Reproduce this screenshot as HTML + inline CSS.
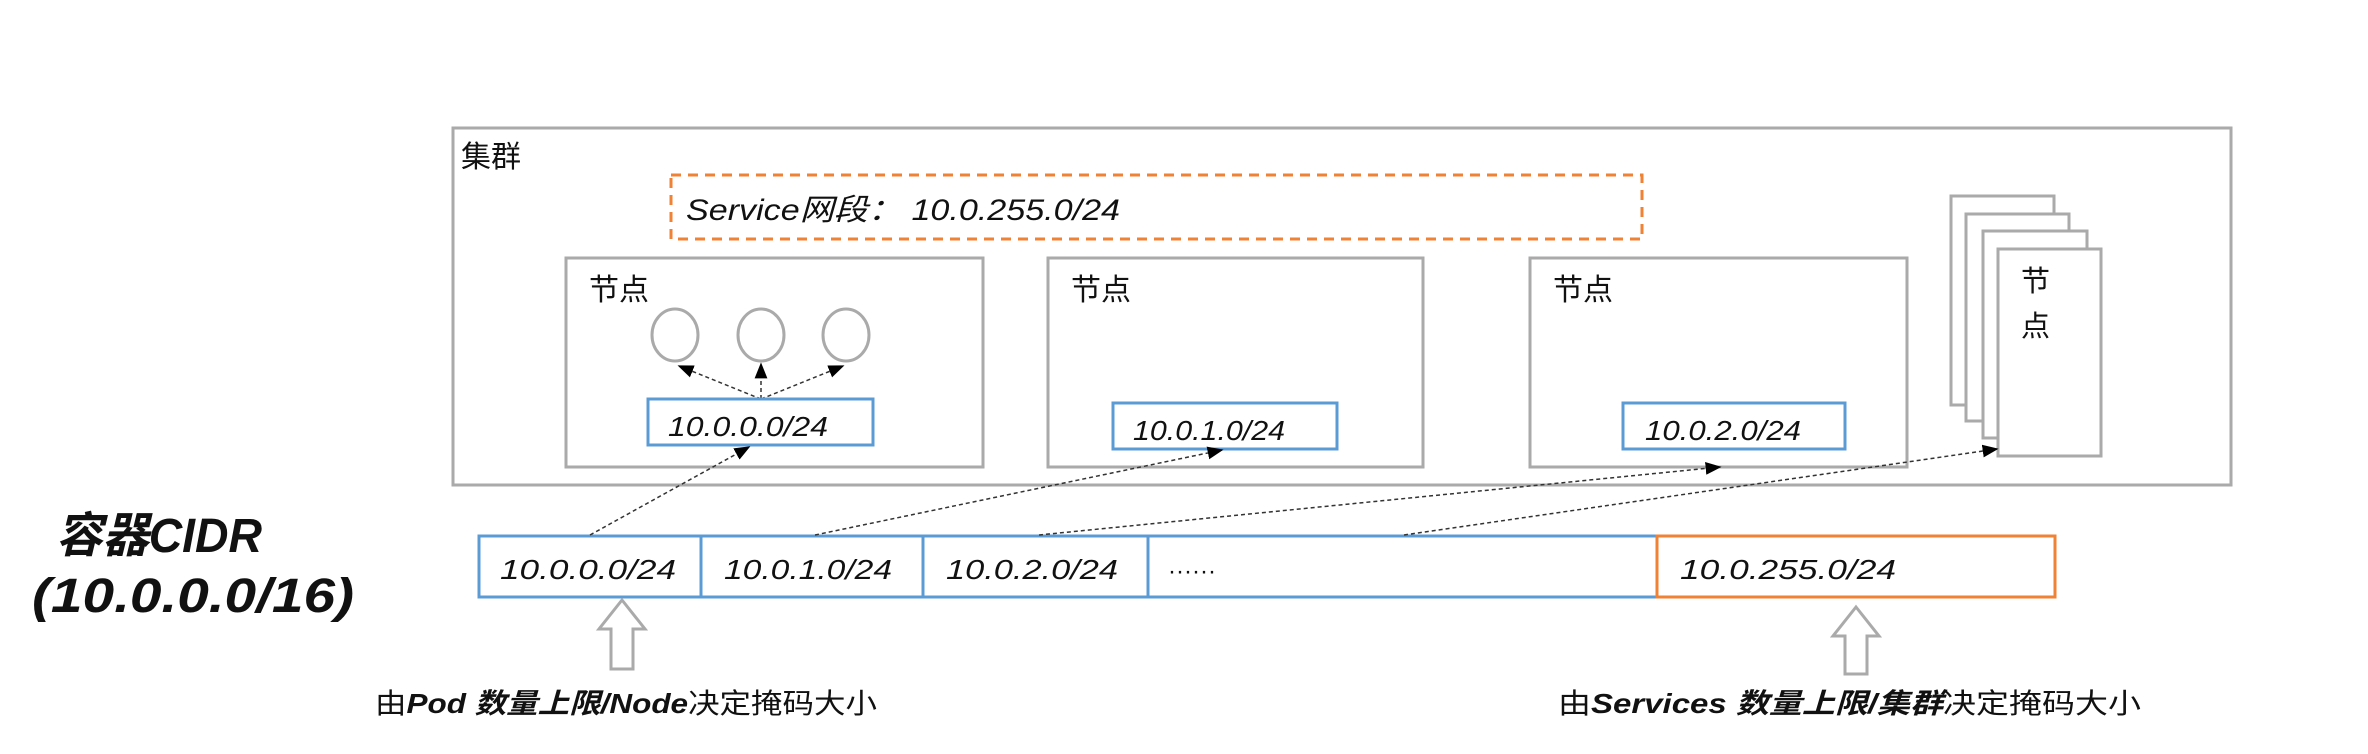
<!DOCTYPE html>
<html><head><meta charset="utf-8"><style>
html,body{margin:0;padding:0;background:#fff;}
svg{display:block;}
text{font-family:"Liberation Sans","Noto Sans CJK SC",sans-serif;fill:#111;}
.it{font-style:italic;}
</style></head><body>
<svg width="2368" height="754" viewBox="0 0 2368 754" xmlns="http://www.w3.org/2000/svg">
<defs>
<marker id="ah2" viewBox="0 0 10 10" refX="9" refY="5" markerWidth="16" markerHeight="16" orient="auto" markerUnits="userSpaceOnUse">
<path d="M0,1 L10,5 L0,9 z" fill="#000"/>
</marker>
</defs>
<rect x="453" y="128" width="1778" height="357" fill="none" stroke="#aaa" stroke-width="3"/>
<text x="461" y="167" font-size="30">集群</text>
<rect x="671" y="175" width="971" height="64" fill="none" stroke="#f08234" stroke-width="3" stroke-dasharray="10,7"/>
<text x="686" y="220" font-size="30" class="it" textLength="434" lengthAdjust="spacingAndGlyphs">Service网段：  10.0.255.0/24</text>
<rect x="566" y="258" width="417" height="209" fill="none" stroke="#aaa" stroke-width="3"/>
<text x="589" y="300" font-size="30">节点</text>
<rect x="1048" y="258" width="375" height="209" fill="none" stroke="#aaa" stroke-width="3"/>
<text x="1071" y="300" font-size="30">节点</text>
<rect x="1530" y="258" width="377" height="209" fill="none" stroke="#aaa" stroke-width="3"/>
<text x="1553" y="300" font-size="30">节点</text>
<ellipse cx="675" cy="335" rx="23" ry="26" fill="none" stroke="#aaa" stroke-width="3"/>
<ellipse cx="761" cy="335" rx="23" ry="26" fill="none" stroke="#aaa" stroke-width="3"/>
<ellipse cx="846" cy="335" rx="23" ry="26" fill="none" stroke="#aaa" stroke-width="3"/>
<g stroke="#333" stroke-width="1.5" stroke-dasharray="4,3" fill="none">
<line x1="761" y1="399" x2="679" y2="366" marker-end="url(#ah2)"/>
<line x1="761" y1="399" x2="761" y2="364" marker-end="url(#ah2)"/>
<line x1="761" y1="399" x2="843" y2="366" marker-end="url(#ah2)"/>
</g>
<rect x="648" y="399" width="225" height="46" fill="#fff" stroke="#5b9bd5" stroke-width="3"/>
<text x="668" y="436" font-size="28" class="it" textLength="160" lengthAdjust="spacingAndGlyphs">10.0.0.0/24</text>
<rect x="1113" y="403" width="224" height="46" fill="#fff" stroke="#5b9bd5" stroke-width="3"/>
<text x="1133" y="440" font-size="28" class="it" textLength="152" lengthAdjust="spacingAndGlyphs">10.0.1.0/24</text>
<rect x="1623" y="403" width="222" height="46" fill="#fff" stroke="#5b9bd5" stroke-width="3"/>
<text x="1645" y="440" font-size="28" class="it" textLength="156" lengthAdjust="spacingAndGlyphs">10.0.2.0/24</text>
<rect x="1951" y="196" width="103" height="209" fill="#fff" stroke="#aaa" stroke-width="3"/>
<rect x="1966" y="214" width="103" height="207" fill="#fff" stroke="#aaa" stroke-width="3"/>
<rect x="1983" y="231" width="104" height="207" fill="#fff" stroke="#aaa" stroke-width="3"/>
<rect x="1998" y="249" width="103" height="207" fill="#fff" stroke="#aaa" stroke-width="3"/>
<text x="2021" y="291" font-size="29">节</text>
<text x="2021" y="336" font-size="29">点</text>
<rect x="479" y="536" width="1178" height="61" fill="none" stroke="#5b9bd5" stroke-width="3"/>
<line x1="701" y1="536" x2="701" y2="597" stroke="#5b9bd5" stroke-width="3"/>
<line x1="923" y1="536" x2="923" y2="597" stroke="#5b9bd5" stroke-width="3"/>
<line x1="1148" y1="536" x2="1148" y2="597" stroke="#5b9bd5" stroke-width="3"/>
<rect x="1657" y="536" width="398" height="61" fill="#fff" stroke="#f08234" stroke-width="3"/>
<text x="500" y="579" font-size="28" class="it" textLength="176" lengthAdjust="spacingAndGlyphs">10.0.0.0/24</text>
<text x="724" y="579" font-size="28" class="it" textLength="168" lengthAdjust="spacingAndGlyphs">10.0.1.0/24</text>
<text x="946" y="579" font-size="28" class="it" textLength="172" lengthAdjust="spacingAndGlyphs">10.0.2.0/24</text>
<text x="1168" y="579" font-size="24">······</text>
<text x="1680" y="579" font-size="28" class="it" textLength="216" lengthAdjust="spacingAndGlyphs">10.0.255.0/24</text>
<g stroke="#333" stroke-width="1.5" stroke-dasharray="4,3" fill="none">
<line x1="590" y1="535" x2="749" y2="447" marker-end="url(#ah2)"/>
<line x1="815" y1="535" x2="1222" y2="450" marker-end="url(#ah2)"/>
<line x1="1039" y1="535" x2="1720" y2="467" marker-end="url(#ah2)"/>
<line x1="1404" y1="535" x2="1997" y2="449" marker-end="url(#ah2)"/>
</g>
<path d="M622,600 L645,629 L633,629 L633,669 L611,669 L611,629 L599,629 Z" fill="#fff" stroke="#aaa" stroke-width="3"/>
<path d="M1856,607 L1879,636 L1867,636 L1867,674 L1845,674 L1845,636 L1833,636 Z" fill="#fff" stroke="#aaa" stroke-width="3"/>
<text x="56" y="552" font-size="48" font-weight="bold" class="it" textLength="206" lengthAdjust="spacingAndGlyphs">容器CIDR</text>
<text x="32" y="612" font-size="48" font-weight="bold" class="it" textLength="322" lengthAdjust="spacingAndGlyphs">(10.0.0.0/16)</text>
<text x="375" y="713" font-size="28" textLength="502" lengthAdjust="spacingAndGlyphs">由<tspan font-weight="bold" font-style="italic">Pod 数量上限/Node</tspan>决定掩码大小</text>
<text x="1558" y="713" font-size="28" textLength="583" lengthAdjust="spacingAndGlyphs">由<tspan font-weight="bold" font-style="italic">Services 数量上限/集群</tspan>决定掩码大小</text>
</svg>
</body></html>
